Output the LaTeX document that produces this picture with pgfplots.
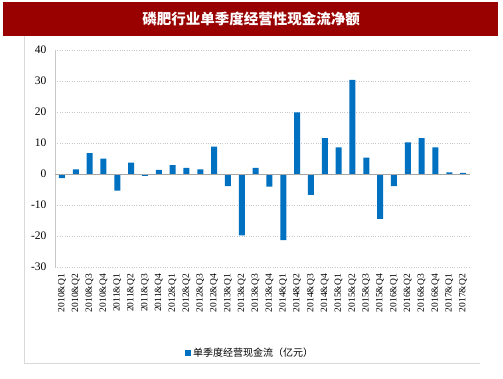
\documentclass[border=0pt]{standalone}
\usepackage{pgfplots}
\pgfplotsset{compat=1.18}
\usepackage{fontspec}
\setmainfont{Liberation Serif}
\newfontfamily\cjk{Noto Sans CJK SC}
\definecolor{titlered}{HTML}{990000}
\definecolor{barblue}{HTML}{0070C0}
\definecolor{gridgray}{HTML}{C8C8C8}
\definecolor{bordergray}{HTML}{D9D9D9}
\pgfplotstableread{
x y
0 -1.3
1 1.5
2 6.7
3 5.0
4 -5.4
5 3.7
6 -0.6
7 1.3
8 2.9
9 2.0
10 1.5
11 8.8
12 -3.9
13 -19.8
14 2.0
15 -4.1
16 -21.3
17 19.9
18 -6.7
19 11.6
20 8.6
21 30.4
22 5.3
23 -14.5
24 -3.9
25 10.2
26 11.6
27 8.6
28 0.5
29 0.4
}\cashflow
\begin{document}
\begin{tikzpicture}[x=1bp,y=1bp]
\path (0,0) rectangle (503,378);
\fill[titlered] (3,342) rectangle (498,376);
\node[text=white,font=\cjk\bfseries\fontsize{14.5bp}{16bp}\selectfont] at (251,359) {磷肥行业单季度经营性现金流净额};
\draw[bordergray,line width=0.8bp] (24,342) -- (24,15) -- (480,15);
\begin{axis}[
  at={(55bp,111bp)}, anchor=south west,
  scale only axis, width=415bp, height=217bp,
  xmin=-0.5, xmax=29.5, ymin=-30, ymax=40,
  ytick={-30,-20,...,40},
  xtick={0,...,29},
  xticklabels={2010\&Q1,2010\&Q2,2010\&Q3,2010\&Q4,2011\&Q1,2011\&Q2,2011\&Q3,2011\&Q4,2012\&Q1,2012\&Q2,2012\&Q3,2012\&Q4,2013\&Q1,2013\&Q2,2013\&Q3,2013\&Q4,2014\&Q1,2014\&Q2,2014\&Q3,2014\&Q4,2015\&Q1,2015\&Q2,2015\&Q3,2015\&Q4,2016\&Q1,2016\&Q2,2016\&Q3,2016\&Q4,2017\&Q1,2017\&Q2},
  x tick label style={rotate=90, anchor=east, font=\fontsize{9.5bp}{10bp}\selectfont, inner sep=1bp, xshift=-6bp},
  y tick label style={font=\fontsize{11.5bp}{13bp}\selectfont, xshift=-5bp},
  /pgf/number format/assume math mode=true,
  major tick length=0pt,
  axis x line=bottom,
  x axis line style={draw=none},
  axis y line*=left,
  y axis line style={gridgray, line width=0.8bp, -},
  ymajorgrids,
  major grid style={gridgray, dotted, line width=0.6bp},
  clip=false,
  legend style={at={(0.47,-0.396)}, anchor=center, draw=none, fill=none,
    font=\cjk\fontsize{10bp}{12bp}\selectfont},
  legend image code/.code={\fill[barblue] (0bp,-3bp) rectangle (6bp,3bp);},
]
\addplot[ybar, bar width=6bp, fill=barblue, draw=none] table[x=x,y=y] {\cashflow};
\addlegendentry{单季度经营现金流（亿元）}
\draw[gray!70, line width=0.8bp] (axis cs:-0.5,0) -- (axis cs:29.5,0);
\end{axis}
\end{tikzpicture}
\end{document}
